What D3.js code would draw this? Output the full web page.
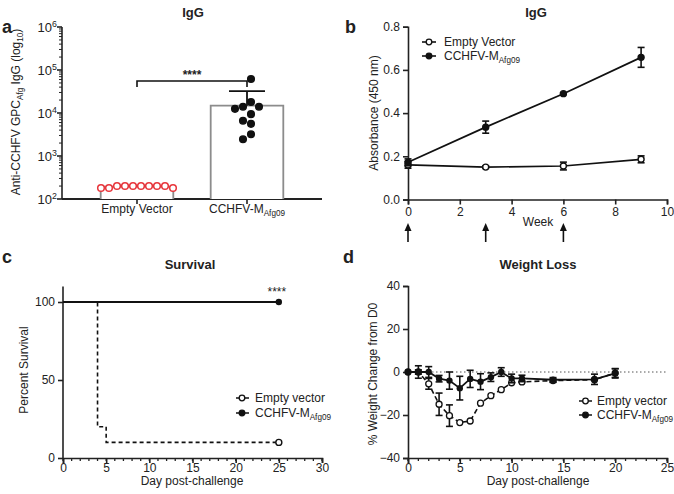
<!DOCTYPE html>
<html><head><meta charset="utf-8">
<script src="https://cdn.jsdelivr.net/npm/d3@7"></script>
<style>body{margin:0;background:#fff} text{font-family:"Liberation Sans",Arial,sans-serif;fill:#222}</style>
</head><body><svg id="c" width="674" height="494"></svg>
<script>
// ---------- data ----------
const igGroups = ["Empty Vector", "CCHFV-M"];
const igEmpty = [200,200,200,200,180,200,180,200,180,200];
const igCchfv = [62000,18000,14000,14000,12500,9400,6600,5600,3200,2450];
const igExponents = [2,3,4,5,6];

const weeks = [0,3,6,9];
const absEmpty = [0.160,0.150,0.155,0.186];
const absEmptyErr = [0.015,0.006,0.018,0.016];
const absCchfv = [0.172,0.335,0.490,0.658];
const absCchfvErr = [0.016,0.028,0.004,0.046];
const boostWeeks = [0,3,6];
const absTicksY = [0,0.2,0.4,0.6,0.8];
const absTicksX = [0,2,4,6,8,10];

const survEmptyDays = [0,4,5,25];
const survEmptyPct = [100,20,10,10];
const survCchfvDays = [0,25];
const survCchfvPct = [100,100];
const survTicksY = [0,50,100];
const survTicksX = [0,5,10,15,20,25,30];

const wDays = [0,1,2,3,4,5,6,7,8,9,10,11,14,18,20];
const wEmpty = [0,0,-5.5,-15,-20.3,-23.5,-22.8,-14.5,-11,-8.2,-5,-4.6,-4,-3.6,-0.5];
const wEmptyErr = [0,1,2.5,5.2,5,0,0,0,0,0,0,0,0.8,0,2];
const wCchfv = [0,0,0,-3.1,-4,-7.5,-3.2,-4.5,-2.4,0,-3,-3,-3.6,-3.4,-0.6];
const wCchfvErr = [0,2.9,2.5,1.5,4,5.5,4,3.7,2,2,2,1.5,1,2.4,2.2];
const wTicksY = [-40,-20,0,20,40];
const wTicksX = [0,5,10,15,20,25];

// ---------- helpers ----------
const svg = d3.select("#c");
const FS = 12;
function txt(g, x, y, s, o = {}) {
  return g.append("text").attr("x", x).attr("y", y).text(s)
    .attr("font-size", o.size || FS).attr("font-weight", o.bold ? "bold" : null)
    .attr("text-anchor", o.anchor || "middle");
}
function subText(g, x, y, parts, o = {}) {
  const t = g.append("text").attr("x", x).attr("y", y).attr("font-size", o.size || FS)
    .attr("text-anchor", o.anchor || "middle");
  if (o.rotate) t.attr("transform", `rotate(-90,${x},${y})`);
  let shift = 0;
  parts.forEach(([s, k]) => {
    const want = k === "sub" ? 3 : k === "sup" ? -5 : 0;
    t.append("tspan").text(s).attr("dy", want - shift)
      .attr("font-size", k ? (o.size || FS) * 0.68 : null);
    shift = want;
  });
  return t;
}
function styleAxis(a) {
  a.selectAll("path,line").attr("stroke", "#222").attr("stroke-width", 1.6);
  a.selectAll("text").attr("font-size", FS).attr("fill", "#222")
    .attr("font-family", '"Liberation Sans",Arial,sans-serif');
}
function errBar(g, x, y1, y2, cap, w = 1.6) {
  g.append("line").attr("x1", x).attr("x2", x).attr("y1", y1).attr("y2", y2).attr("stroke", "#111").attr("stroke-width", w);
  [y1, y2].forEach(y => g.append("line").attr("x1", x - cap / 2).attr("x2", x + cap / 2).attr("y1", y).attr("y2", y).attr("stroke", "#111").attr("stroke-width", w));
}
function minorTicks(g, scale, y, step) {
  const [a, b] = scale.domain();
  for (let v = a; v <= b + 1e-9; v += step)
    g.append("line").attr("x1", scale(v)).attr("x2", scale(v)).attr("y1", y).attr("y2", y + 3).attr("stroke", "#222").attr("stroke-width", 1.3);
}

// ---------- panel a ----------
{
  const g = svg.append("g");
  const y = d3.scaleLog().domain([1e2, 1e6]).range([199, 27]);
  const x = d3.scaleBand().domain(igGroups).range([82, 302]);
  const X0 = 62, X1 = 322;
  g.append("line").attr("x1", X0).attr("x2", X0).attr("y1", y(1e2)).attr("y2", y(1e6)).attr("stroke", "#222").attr("stroke-width", 1.6);
  igExponents.forEach(e => {
    const v = Math.pow(10, e);
    g.append("line").attr("x1", X0 - 5).attr("x2", X0).attr("y1", y(v)).attr("y2", y(v)).attr("stroke", "#222").attr("stroke-width", 1.6);
    subText(g, X0 - 5, y(v) + 5, [["10", null], [String(e), "sup"]], { anchor: "end", size: 13 });
    if (e < 6) for (let m = 2; m < 10; m++) {
      g.append("line").attr("x1", X0 - 3).attr("x2", X0).attr("y1", y(m * v)).attr("y2", y(m * v)).attr("stroke", "#222").attr("stroke-width", 1);
    }
  });
  g.append("line").attr("x1", X0).attr("x2", X1).attr("y1", 199).attr("y2", 199).attr("stroke", "#222").attr("stroke-width", 1.8);
  const cx = d => x(d) + x.bandwidth() / 2;
  igGroups.forEach(d => g.append("line").attr("x1", cx(d)).attr("x2", cx(d)).attr("y1", 199).attr("y2", 204).attr("stroke", "#222").attr("stroke-width", 1.6));
  txt(g, cx(igGroups[0]), 213, "Empty Vector");
  subText(g, cx(igGroups[1]), 213, [["CCHFV-M", null], ["Afg09", "sub"]]);
  const groups = [{ k: igGroups[0], v: igEmpty, fill: "none", stroke: "#e8353b" }, { k: igGroups[1], v: igCchfv, fill: "#111", stroke: "#111" }];
  groups.forEach(gr => {
    const mean = d3.mean(gr.v), sd = d3.deviation(gr.v);
    const bw = x.bandwidth() * 0.66;
    g.append("path").attr("d", `M${cx(gr.k) - bw / 2},199V${y(mean)}H${cx(gr.k) + bw / 2}V199`)
      .attr("fill", "#fff").attr("stroke", "#8c8c8c").attr("stroke-width", 1.8);
    g.append("line").attr("x1", cx(gr.k)).attr("x2", cx(gr.k)).attr("y1", y(mean)).attr("y2", y(mean + sd)).attr("stroke", "#111").attr("stroke-width", 1.8);
    g.append("line").attr("x1", cx(gr.k) - 18).attr("x2", cx(gr.k) + 18).attr("y1", y(mean + sd)).attr("y2", y(mean + sd)).attr("stroke", "#111").attr("stroke-width", 1.8);
    const step = 8, minD = 7.4;
    const pts = gr.v.map(v => ({ v, y: y(v) })).sort((a, b) => b.v - a.v);
    const placed = [];
    pts.forEach(p => {
      for (let i = 0; i < 40; i++) {
        const off = (i % 2 ? -1 : 1) * Math.ceil(i / 2) * step;
        if (placed.every(q => Math.hypot(q.off - off, q.y - p.y) >= minD)) { p.off = off; placed.push(p); break; }
      }
    });
    const shift = -(d3.min(placed, p => p.off) + d3.max(placed, p => p.off)) / 2;
    placed.forEach(p => g.append("circle").attr("cx", cx(gr.k) + p.off + shift).attr("cy", p.y).attr("r", 3.3)
      .attr("fill", gr.fill === "none" ? "#fff" : gr.fill).attr("stroke", gr.stroke).attr("stroke-width", 1.5));
  });
  const by = 81;
  g.append("path").attr("d", `M${cx(igGroups[0])},${by + 6}V${by}H${cx(igGroups[1])}V${by + 6}`).attr("fill", "none").attr("stroke", "#111").attr("stroke-width", 1.6);
  txt(g, (cx(igGroups[0]) + cx(igGroups[1])) / 2, 79, "****", { size: 12, bold: true });
  subText(g, 20, 112, [["Anti-CCHFV GPC", null], ["Afg", "sub"], [" IgG (log", null], ["10", "sub"], [")", null]], { rotate: true });
  txt(g, 193, 17, "IgG", { bold: true, size: 13 });
  txt(g, 2, 33, "a", { bold: true, size: 18, anchor: "start" });
}

// ---------- panel b ----------
{
  const g = svg.append("g");
  const x = d3.scaleLinear().domain([0, 10]).range([408, 667]);
  const y = d3.scaleLinear().domain([0, 0.8]).range([199.5, 26.7]);
  const ax = g.append("g").attr("transform", "translate(0,199.5)").call(d3.axisBottom(x).tickValues(absTicksX).tickSizeOuter(0).tickSize(5));
  const ay = g.append("g").attr("transform", "translate(408,0)").call(d3.axisLeft(y).tickValues(absTicksY).tickFormat(d3.format(".1f")).tickSizeOuter(0).tickSize(5));
  styleAxis(ax); styleAxis(ay);
  const line = d3.line().x(d => x(d[0])).y(d => y(d[1]));
  const series = [{ v: absEmpty, e: absEmptyErr, fill: "#fff" }, { v: absCchfv, e: absCchfvErr, fill: "#111" }];
  series.forEach(s => {
    g.append("path").attr("d", line(weeks.map((w, i) => [w, s.v[i]]))).attr("fill", "none").attr("stroke", "#111").attr("stroke-width", 1.7);
  });
  series.forEach(s => {
    weeks.forEach((w, i) => {
      errBar(g, x(w), y(s.v[i] - s.e[i]), y(s.v[i] + s.e[i]), 7);
      g.append("circle").attr("cx", x(w)).attr("cy", y(s.v[i])).attr("r", 3).attr("fill", s.fill).attr("stroke", "#111").attr("stroke-width", 1.4);
    });
  });
  boostWeeks.forEach(w => {
    g.append("line").attr("x1", x(w)).attr("x2", x(w)).attr("y1", 242).attr("y2", 228).attr("stroke", "#111").attr("stroke-width", 1.6);
    g.append("path").attr("d", `M${x(w) - 3.5},${231}L${x(w)},${223}L${x(w) + 3.5},${231}Z`).attr("fill", "#111");
  });
  txt(g, 538, 226, "Week");
  subText(g, 378, 113, [["Absorbance (450 nm)", null]], { rotate: true });
  txt(g, 536, 17, "IgG", { bold: true, size: 13 });
  txt(g, 345, 33, "b", { bold: true, size: 18, anchor: "start" });
  [["Empty Vector", "#fff", 42], ["CCHFV-M", "#111", 56]].forEach(([t, f, ly], i) => {
    g.append("line").attr("x1", 422).attr("x2", 436).attr("y1", ly).attr("y2", ly).attr("stroke", "#111").attr("stroke-width", 1.6);
    g.append("circle").attr("cx", 429).attr("cy", ly).attr("r", 2.8).attr("fill", f).attr("stroke", "#111").attr("stroke-width", 1.3);
    if (i === 0) txt(g, 444, ly + 4, t, { anchor: "start" });
    else subText(g, 444, ly + 4, [[t, null], ["Afg09", "sub"]], { anchor: "start" });
  });
}

// ---------- panel c ----------
{
  const g = svg.append("g");
  const x = d3.scaleLinear().domain([0, 30]).range([63, 322]);
  const y = d3.scaleLinear().domain([0, 100]).range([458, 302]);
  const ax = g.append("g").attr("transform", "translate(0,458)").call(d3.axisBottom(x).tickValues(survTicksX).tickSizeOuter(0).tickSize(5).tickPadding(0));
  const ay = g.append("g").attr("transform", "translate(63,0)").call(d3.axisLeft(y).tickValues(survTicksY).tickSizeOuter(0).tickSize(5));
  styleAxis(ax); styleAxis(ay);
  ay.select(".domain").remove();
  g.append("line").attr("x1", 63).attr("x2", 63).attr("y1", y(0)).attr("y2", y(110)).attr("stroke", "#222").attr("stroke-width", 1.6);
  minorTicks(g, x, 458, 1);
  const step = d3.line().x(d => x(d[0])).y(d => y(d[1])).curve(d3.curveStepAfter);
  g.append("path").attr("d", step(survEmptyDays.map((d, i) => [d, survEmptyPct[i]]))).attr("fill", "none").attr("stroke", "#111").attr("stroke-width", 1.6).attr("stroke-dasharray", "4,3");
  g.append("path").attr("d", step(survCchfvDays.map((d, i) => [d, survCchfvPct[i]]))).attr("fill", "none").attr("stroke", "#111").attr("stroke-width", 1.8);
  g.append("circle").attr("cx", x(25)).attr("cy", y(survEmptyPct[3])).attr("r", 3).attr("fill", "#fff").attr("stroke", "#111").attr("stroke-width", 1.4);
  g.append("circle").attr("cx", x(25)).attr("cy", y(survCchfvPct[1])).attr("r", 3.2).attr("fill", "#111");
  txt(g, x(25) - 2, 296, "****", { size: 12 });
  txt(g, 192, 485, "Day post-challenge");
  subText(g, 28, 370, [["Percent Survival", null]], { rotate: true });
  txt(g, 190, 269, "Survival", { bold: true, size: 13 });
  txt(g, 2, 263, "c", { bold: true, size: 18, anchor: "start" });
  [["Empty vector", "#fff", 398], ["CCHFV-M", "#111", 413]].forEach(([t, f, ly], i) => {
    g.append("line").attr("x1", 236).attr("x2", 249).attr("y1", ly).attr("y2", ly).attr("stroke", "#111").attr("stroke-width", 1.5);
    g.append("circle").attr("cx", 242).attr("cy", ly).attr("r", 2.8).attr("fill", f).attr("stroke", "#111").attr("stroke-width", 1.3);
    if (i === 0) txt(g, 255, ly + 4, t, { anchor: "start" });
    else subText(g, 255, ly + 4, [[t, null], ["Afg09", "sub"]], { anchor: "start" });
  });
}

// ---------- panel d ----------
{
  const g = svg.append("g");
  const x = d3.scaleLinear().domain([0, 25]).range([408, 667]);
  const y = d3.scaleLinear().domain([-40, 40]).range([458, 286]);
  const ax = g.append("g").attr("transform", "translate(0,458)").call(d3.axisBottom(x).tickValues(wTicksX).tickSizeOuter(0).tickSize(5).tickPadding(0));
  const ay = g.append("g").attr("transform", "translate(408,0)").call(d3.axisLeft(y).tickValues(wTicksY).tickSizeOuter(0).tickSize(5));
  styleAxis(ax); styleAxis(ay);
  minorTicks(g, x, 458, 1);
  g.append("line").attr("x1", 408).attr("x2", 667).attr("y1", y(0)).attr("y2", y(0)).attr("stroke", "#555").attr("stroke-width", 1).attr("stroke-dasharray", "1.5,2.5");
  const line = d3.line().x(d => x(d[0])).y(d => y(d[1]));
  g.append("path").attr("d", line(wDays.map((d, i) => [d, wEmpty[i]]))).attr("fill", "none").attr("stroke", "#111").attr("stroke-width", 1.6).attr("stroke-dasharray", "5,3");
  wDays.forEach((d, i) => {
    if (wEmptyErr[i] > 0) errBar(g, x(d), y(wEmpty[i] - wEmptyErr[i]), y(wEmpty[i] + wEmptyErr[i]), 7);
    g.append("circle").attr("cx", x(d)).attr("cy", y(wEmpty[i])).attr("r", 3).attr("fill", "#fff").attr("stroke", "#111").attr("stroke-width", 1.3);
  });
  g.append("path").attr("d", line(wDays.map((d, i) => [d, wCchfv[i]]))).attr("fill", "none").attr("stroke", "#111").attr("stroke-width", 1.8);
  wDays.forEach((d, i) => {
    if (wCchfvErr[i] > 0) errBar(g, x(d), y(wCchfv[i] - wCchfvErr[i]), y(wCchfv[i] + wCchfvErr[i]), 7);
    g.append("circle").attr("cx", x(d)).attr("cy", y(wCchfv[i])).attr("r", 3.2).attr("fill", "#111");
  });
  txt(g, 538, 485, "Day post-challenge");
  subText(g, 377, 374, [["% Weight Change from D0", null]], { rotate: true });
  txt(g, 538, 269, "Weight Loss", { bold: true, size: 13 });
  txt(g, 343, 263, "d", { bold: true, size: 18, anchor: "start" });
  [["Empty vector", "#fff", 401], ["CCHFV-M", "#111", 415]].forEach(([t, f, ly], i) => {
    g.append("line").attr("x1", 579).attr("x2", 592).attr("y1", ly).attr("y2", ly).attr("stroke", "#111").attr("stroke-width", 1.5);
    g.append("circle").attr("cx", 585.5).attr("cy", ly).attr("r", 2.8).attr("fill", f).attr("stroke", "#111").attr("stroke-width", 1.3);
    if (i === 0) txt(g, 597, ly + 4, t, { anchor: "start" });
    else subText(g, 597, ly + 4, [[t, null], ["Afg09", "sub"]], { anchor: "start" });
  });
}
</script></body></html>
